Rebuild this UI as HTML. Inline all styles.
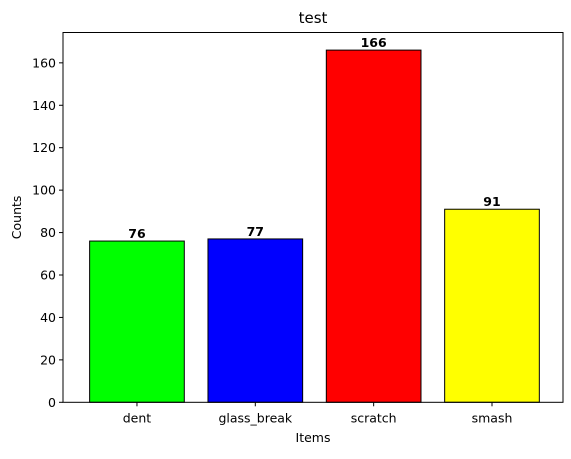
<!DOCTYPE html>
<html><head><meta charset="utf-8"><style>
body{margin:0;background:#fff;font-family:"DejaVu Sans","Liberation Sans",sans-serif;}
svg text{font-family:"DejaVu Sans","Liberation Sans",sans-serif;}
</style></head><body>
<svg id="chart" width="571" height="455" viewBox="0 0 571 455">
<rect width="571" height="455" fill="#fff"/>
<g id="g"></g>
</svg>
<script>
const categories=["dent","glass_break","scratch","smash"];
const counts=[76,77,166,91];
const colors=["#00ff00","#0000ff","#ff0000","#ffff00"];
const yTicks=[0,20,40,60,80,100,120,140,160];
const L=63,R=563,T=32.5,B=402.3;
const xmin=-0.625,xmax=3.6,ymax=Math.max(...counts)*1.05;
const xs=v=>L+(v-xmin)/(xmax-xmin)*(R-L);
const ys=v=>B-v/ymax*(B-T);
const g=document.getElementById('g');
const NS="http://www.w3.org/2000/svg";
function mk(t,a,txt){const e=document.createElementNS(NS,t);for(const k in a)e.setAttribute(k,a[k]);if(txt!==undefined)e.textContent=txt;g.appendChild(e);return e;}
categories.forEach((c,i)=>{
 const x0=xs(i-0.4),x1=xs(i+0.4),y=ys(counts[i]);
 const r=mk('rect',{x:x0,y:y,width:x1-x0,height:B-y,fill:colors[i],stroke:'#000','stroke-width':1});
 
 
 const t=mk('text',{x:xs(i),y:y-3,'text-anchor':'middle','font-size':12.5,'font-weight':'bold'},counts[i]);
 
 
 mk('line',{x1:xs(i),x2:xs(i),y1:B,y2:B+4,stroke:'#000'});
 const xl=mk('text',{x:xs(i),y:B+20,'text-anchor':'middle','font-size':12.5},c);
 
 
});
yTicks.forEach(v=>{
 mk('line',{x1:L-4,x2:L,y1:ys(v),y2:ys(v),stroke:'#000'});
 const t=mk('text',{x:L-7,y:ys(v)+4.5,'text-anchor':'end','font-size':12.5},v);
 
 
});
const fr=mk('rect',{x:L,y:T,width:R-L,height:B-T,fill:'none',stroke:'#000','stroke-width':1});


const ti=mk('text',{x:(L+R)/2,y:23,'text-anchor':'middle','font-size':15},'test');


const xt=mk('text',{x:(L+R)/2,y:442,'text-anchor':'middle','font-size':12.5},'Items');


const yt=mk('text',{x:21,y:(T+B)/2,'text-anchor':'middle','font-size':12.5,transform:'rotate(-90 21 '+((T+B)/2)+')'},'Counts');


</script>
</body></html>
